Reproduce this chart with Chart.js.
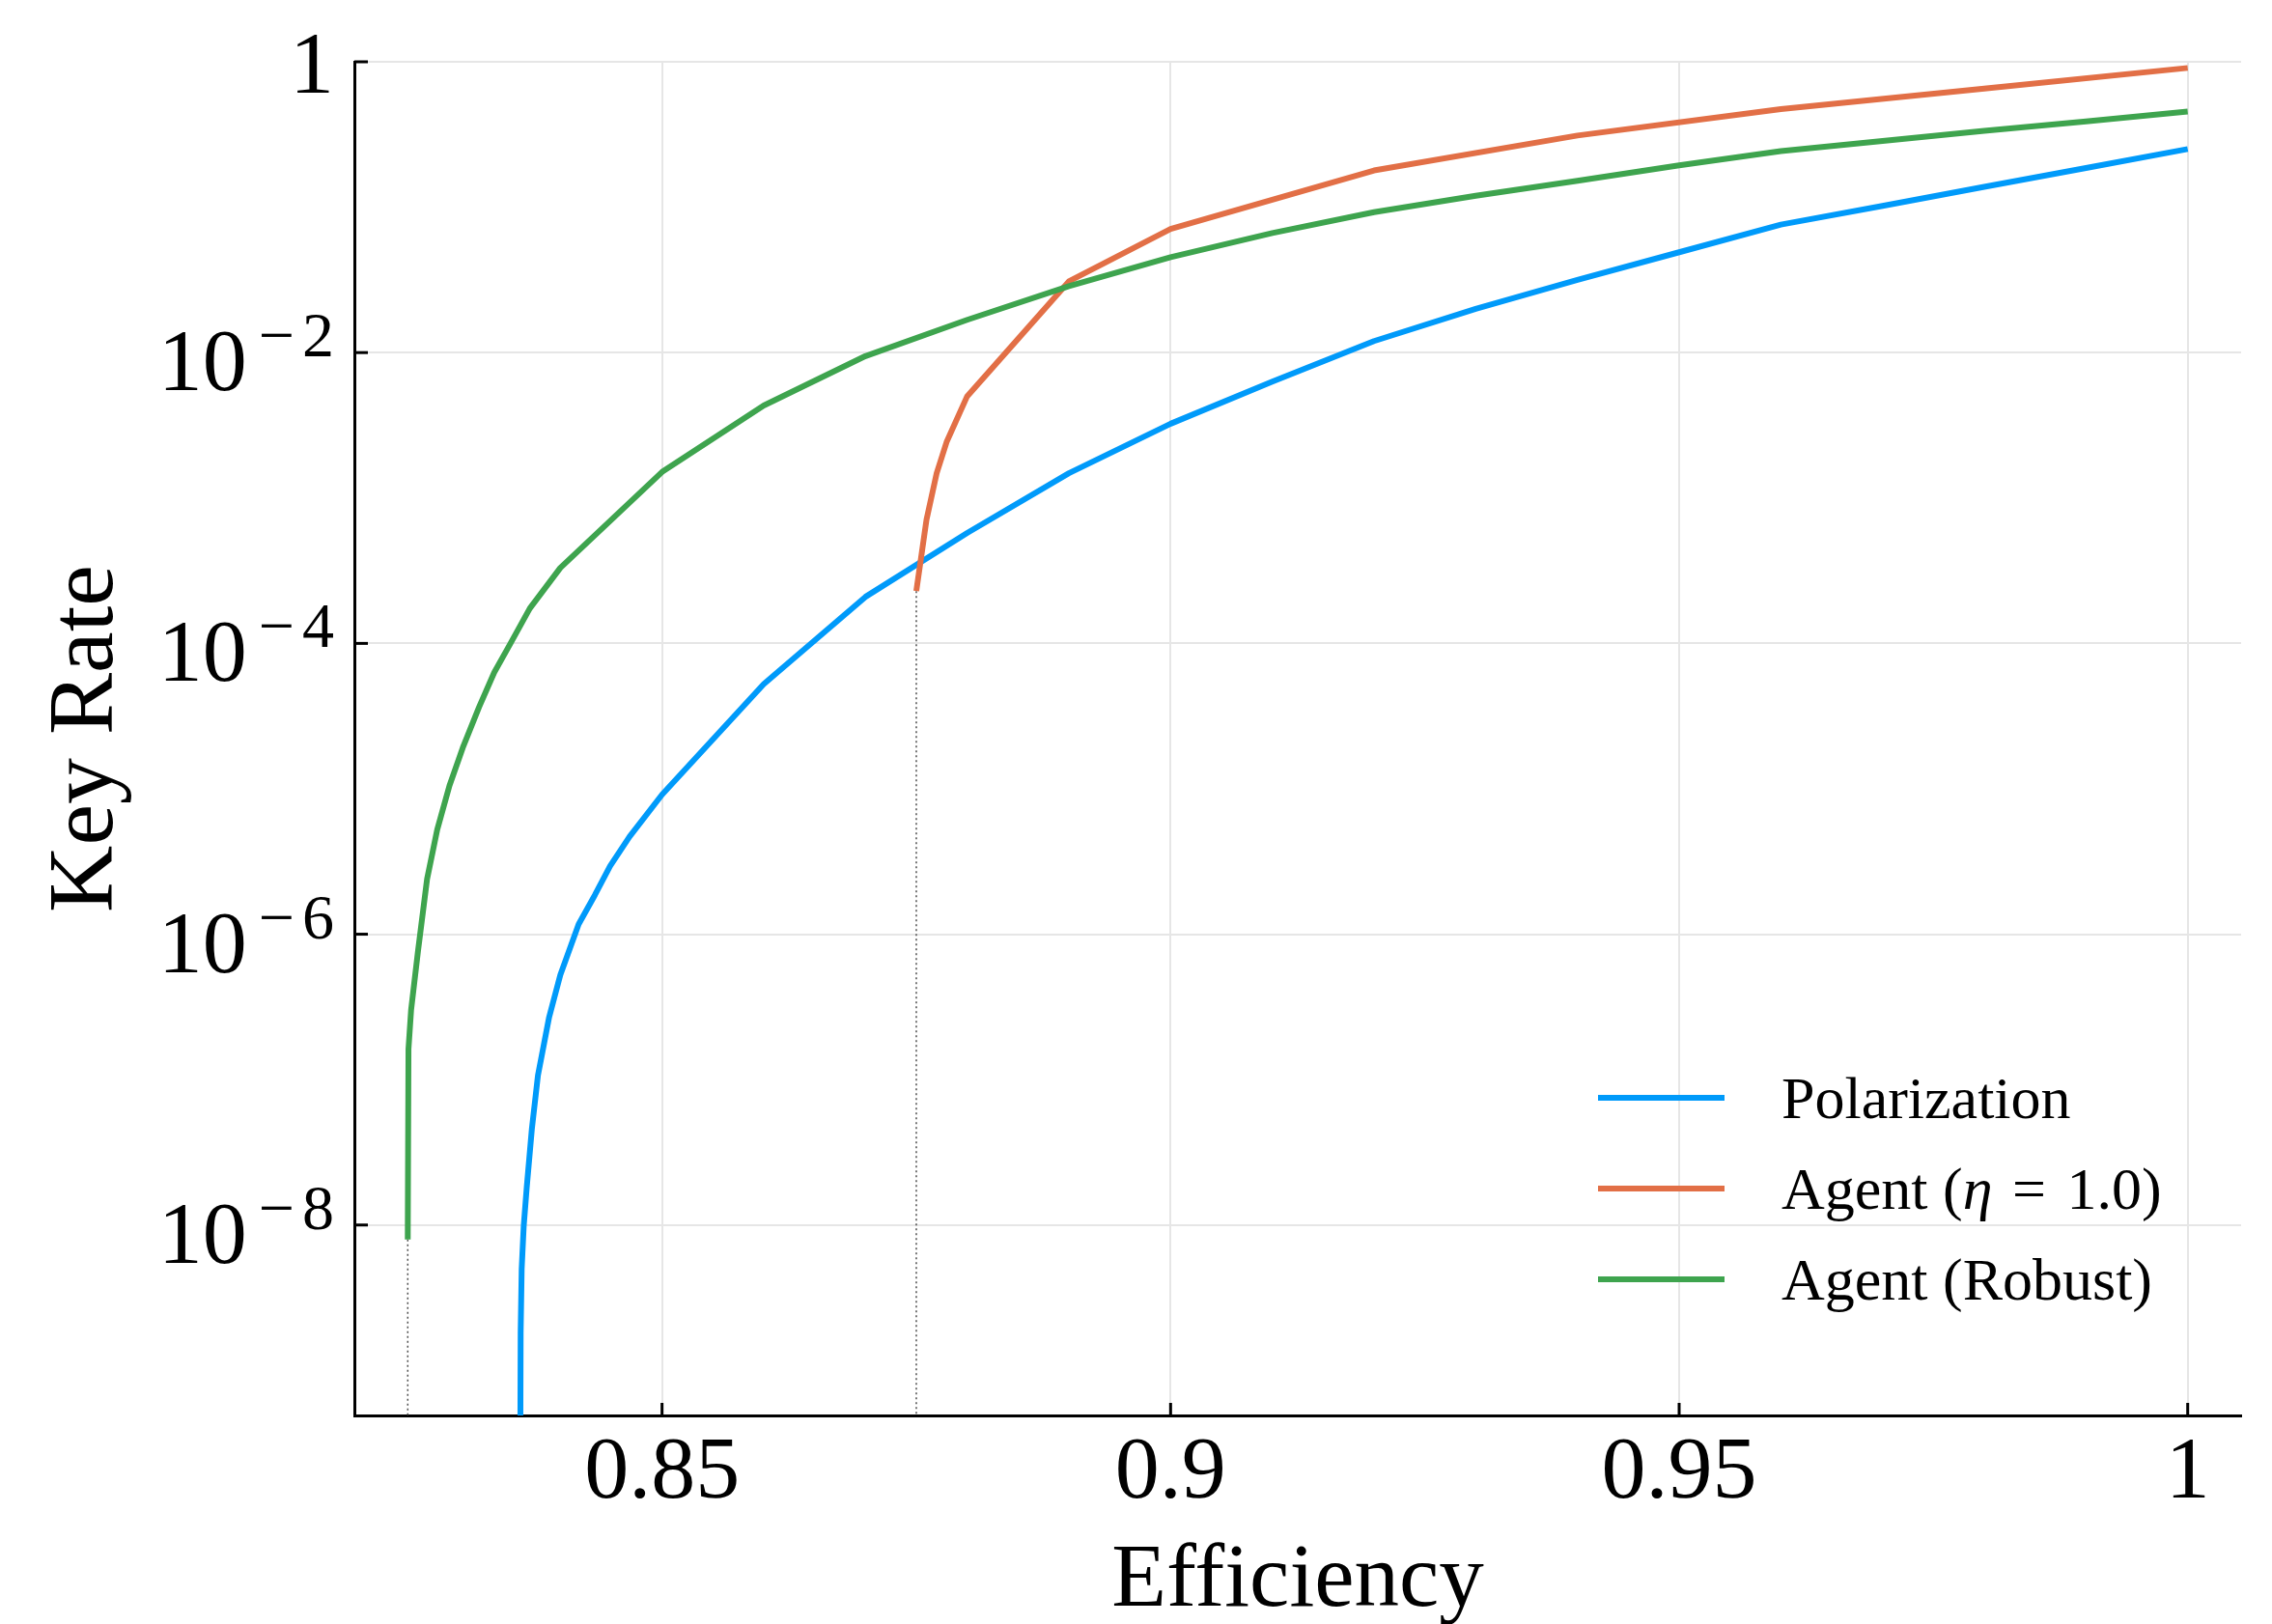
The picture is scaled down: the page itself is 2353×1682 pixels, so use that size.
<!DOCTYPE html>
<html>
<head>
<meta charset="utf-8">
<title>Key Rate vs Efficiency</title>
<script src="https://cdn.jsdelivr.net/npm/chart.js@4.4.1/dist/chart.umd.min.js"></script>
<style>
  html, body { margin: 0; padding: 0; background: #fff; }
  #wrap { width: 2353px; height: 1682px; }
</style>
</head>
<body>
<div id="wrap"><canvas id="keyRateChart" width="2353" height="1682"></canvas></div>
<script>
// Polarization
const polEff  = [0.8360, 0.8361, 0.8362, 0.8364, 0.8367, 0.8372, 0.8378, 0.8389, 0.8400, 0.8418, 0.8434, 0.8449, 0.8468,
                 0.85, 0.86, 0.87, 0.88, 0.89, 0.90, 0.91, 0.92, 0.93, 0.94, 0.95, 0.96, 0.97, 0.98, 0.99, 1.00];
const polRate = [1e-11, 1.82e-9, 5.0e-9, 9.8e-9, 1.82e-8, 4.57e-8, 1.07e-7, 2.69e-7, 5.25e-7, 1.17e-6, 1.86e-6, 2.95e-6, 4.68e-6,
                 9.12e-6, 5.25e-5, 2.09e-4, 5.75e-4, 1.48e-3, 3.24e-3, 6.31e-3, 1.20e-2, 2.00e-2, 3.16e-2, 4.90e-2, 7.59e-2, 0.102, 0.138, 0.186, 0.251];

// Agent (eta = 1.0)
const agentEff  = [0.875, 0.876, 0.877, 0.878, 0.88, 0.89, 0.90, 0.92, 0.94, 0.96, 0.98, 1.00];
const agentRate = [2.29e-4, 7.08e-4, 1.48e-3, 2.45e-3, 5.01e-3, 3.09e-2, 7.08e-2, 0.179, 0.311, 0.473, 0.655, 0.907];

// Agent (Robust)
const robustEff  = [0.8250, 0.82507, 0.82533, 0.8260, 0.8269, 0.8279, 0.8291, 0.8304, 0.8320, 0.8335, 0.8351, 0.8370,
                    0.84, 0.85, 0.86, 0.87, 0.88, 0.89, 0.90, 0.91, 0.92, 0.93, 0.94, 0.95, 0.96, 0.97, 0.98, 0.99, 1.00];
const robustRate = [7.94e-9, 1.62e-7, 3.02e-7, 7.59e-7, 2.40e-6, 5.25e-6, 1.05e-5, 1.91e-5, 3.63e-5, 6.31e-5, 1.0e-4, 1.74e-4,
                    3.31e-4, 1.51e-3, 4.33e-3, 9.46e-3, 1.68e-2, 2.86e-2, 4.53e-2, 6.64e-2, 9.25e-2, 0.120, 0.152, 0.194, 0.243, 0.285, 0.335, 0.389, 0.455];

// dotted drop lines where the agent curves start
const cutoffEff  = [0.825, 0.875];
const cutoffRate = [7.94e-9, 2.29e-4];
const floorRate  = 1e-12;

const seriesNames  = ['Polarization', 'Agent (η = 1.0)', 'Agent (Robust)'];
const seriesColors = ['#009AFA', '#E26F46', '#3EA44E'];

const xTicks = [0.85, 0.9, 0.95, 1];
const xTickLabels = ['0.85', '0.9', '0.95', '1'];
const yTicks = [1, 1e-2, 1e-4, 1e-6, 1e-8];
const yTickBase = ['1', '10', '10', '10', '10'];
const yTickExp  = ['', '2', '4', '6', '8'];

const FONT = '"Liberation Serif", "DejaVu Serif", serif';

function pts(xs, ys) {
    return xs.map((x, i) => ({ x: x, y: ys[i] }));
}

// draws legend text, η in italics and a little air round "="
function legendText(ctx, text, x, y) {
    for (const ch of text) {
        ctx.font = (ch === 'η' ? 'italic ' : '') + '62px ' + FONT;
        if (ch === '=') x += 5;
        ctx.fillText(ch, x, y);
        x += ctx.measureText(ch).width + (ch === '=' ? 6 : 0);
    }
}

// tick marks inside the frame, power-of-ten labels and the legend
const decor = {
    id: 'decor',
    afterDraw(chart) {
        const { ctx, chartArea: a, scales: { x, y } } = chart;
        ctx.save();

        ctx.strokeStyle = '#000';
        ctx.lineWidth = 3;
        xTicks.forEach(v => {
            const px = x.getPixelForValue(v);
            ctx.beginPath(); ctx.moveTo(px, a.bottom); ctx.lineTo(px, a.bottom - 13); ctx.stroke();
        });
        yTicks.forEach(v => {
            const py = y.getPixelForValue(v);
            ctx.beginPath(); ctx.moveTo(a.left, py); ctx.lineTo(a.left + 14, py); ctx.stroke();
        });

        ctx.fillStyle = '#000';
        ctx.textAlign = 'right';
        ctx.textBaseline = 'alphabetic';
        const right = a.left - 21;
        yTicks.forEach((v, i) => {
            const py = y.getPixelForValue(v);
            if (!yTickExp[i]) {
                ctx.font = '92px ' + FONT;
                ctx.fillText(yTickBase[i], right, py + 32);
                return;
            }
            ctx.font = '66px ' + FONT;
            const dw = ctx.measureText(yTickExp[i]).width;
            ctx.fillText(yTickExp[i], right, py + 4);
            const mw = ctx.measureText('−').width;
            ctx.fillText('−', right - dw - 8, py + 4);
            ctx.font = '92px ' + FONT;
            ctx.fillText(yTickBase[i], right - dw - 8 - mw - 12, py + 39);
        });

        // legend
        ctx.textAlign = 'left';
        ctx.lineWidth = 6;
        seriesNames.forEach((name, i) => {
            const ly = a.bottom - 329 + i * 94;
            ctx.strokeStyle = seriesColors[i];
            ctx.beginPath(); ctx.moveTo(a.right - 666, ly); ctx.lineTo(a.right - 535, ly); ctx.stroke();
            legendText(ctx, name, a.right - 476, ly + 21);
        });
        ctx.restore();
    }
};

const lineStyle = { pointRadius: 0, borderWidth: 6, tension: 0, fill: false, borderJoinStyle: 'round', borderCapStyle: 'butt' };
const dotStyle = { pointRadius: 0, borderWidth: 1.5, borderColor: '#4d4d4d', borderDash: [2, 3], tension: 0, fill: false };

const ctx = document.getElementById('keyRateChart').getContext('2d');
window.myChart = new Chart(ctx, {
    type: 'line',
    data: {
        datasets: [
            Object.assign({ label: seriesNames[0], data: pts(polEff, polRate), borderColor: seriesColors[0], order: 3 }, lineStyle),
            Object.assign({ label: seriesNames[1], data: pts(agentEff, agentRate), borderColor: seriesColors[1], order: 2 }, lineStyle),
            Object.assign({ label: seriesNames[2], data: pts(robustEff, robustRate), borderColor: seriesColors[2], order: 1 }, lineStyle),
            Object.assign({ label: 'cutoff 1', data: [{ x: cutoffEff[0], y: cutoffRate[0] }, { x: cutoffEff[0], y: floorRate }], order: 5 }, dotStyle),
            Object.assign({ label: 'cutoff 2', data: [{ x: cutoffEff[1], y: cutoffRate[1] }, { x: cutoffEff[1], y: floorRate }], order: 4 }, dotStyle)
        ]
    },
    options: {
        responsive: false,
        animation: false,
        devicePixelRatio: 1,
        layout: { padding: { left: 0, top: 64, right: 32, bottom: 0 } },
        plugins: { legend: { display: false }, tooltip: { enabled: false } },
        scales: {
            x: {
                type: 'linear',
                min: 0.81975,
                max: 1.00525,
                afterBuildTicks: scale => { scale.ticks = xTicks.map(v => ({ value: v })); },
                afterFit: scale => { scale.height = 216; },
                ticks: {
                    autoSkip: false,
                    maxRotation: 0,
                    padding: 6,
                    color: '#000',
                    font: { family: FONT, size: 92 },
                    callback: (value, index) => xTickLabels[index]
                },
                grid: { color: '#e6e6e6', lineWidth: 2, drawTicks: false },
                border: { color: '#000', width: 3 },
                title: {
                    display: true,
                    text: 'Efficiency',
                    color: '#000',
                    font: { family: FONT, size: 93, lineHeight: 0.94 },
                    padding: { top: 0, bottom: 0 }
                }
            },
            y: {
                type: 'logarithmic',
                min: 4.9e-10,
                max: 1,
                afterBuildTicks: scale => { scale.ticks = yTicks.map(v => ({ value: v })); },
                afterFit: scale => { scale.width = 367; },
                ticks: { display: false },
                grid: { color: '#e6e6e6', lineWidth: 2, drawTicks: false },
                border: { color: '#000', width: 3 },
                title: {
                    display: true,
                    text: 'Key Rate',
                    color: '#000',
                    font: { family: FONT, size: 96, lineHeight: 0.94 },
                    padding: { top: 46, bottom: 0 }
                }
            }
        }
    },
    plugins: [decor]
});
</script>
</body>
</html>
